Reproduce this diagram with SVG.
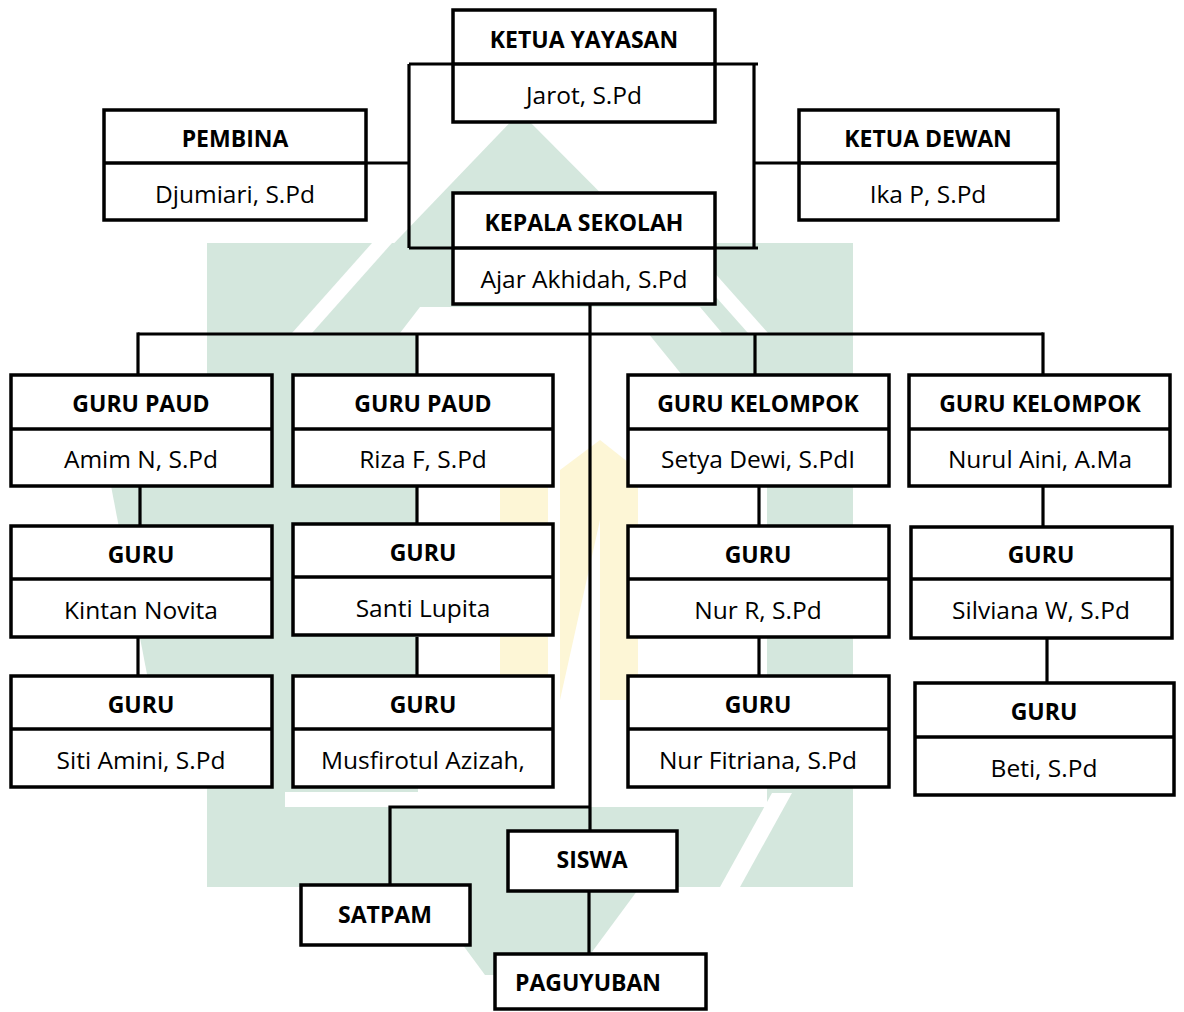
<svg xmlns="http://www.w3.org/2000/svg" width="1184" height="1012" viewBox="0 0 1184 1012">
<style>
.wm{fill:#d4e7dd;stroke:none}
.ww{fill:#fff;stroke:none}
.wy{fill:#fdf6d6;stroke:none}
.box{fill:#fff;stroke:#000;stroke-width:3.5}
.div{stroke:#000;stroke-width:3.5}
.ln{fill:none;stroke:#000;stroke-width:3.2}
.h{font-family:"Open Sans","Liberation Sans",sans-serif;font-weight:bold;font-size:23px;text-anchor:middle;fill:#000}
.n{font-family:"Open Sans","Liberation Sans",sans-serif;font-size:24.5px;text-anchor:middle;fill:#000}
</style>
<rect x="0" y="0" width="1184" height="1012" fill="#fff"/>
<g id="watermark">
<rect class="wm" x="207" y="243" width="646" height="644"/>
<polygon class="wm" points="308,333 520,112 740,333"/>
<polygon class="wm" points="420,887 640,887 575,975 485,975"/>
<polygon class="wm" points="108,470 207,470 207,690 150,690"/>
<polygon class="ww" points="372,243 392,243 312,333 292,333"/>
<polygon class="ww" points="668,243 688,243 768,333 748,333"/>
<polygon class="ww" points="420,307 700,307 722,333 400,333"/>
<polygon class="ww" points="418,333 648,333 767,480 767,792 418,792"/>
<polygon class="ww" points="285,792 767,792 767,807 285,807"/>
<polygon class="ww" points="772,793 792,793 740,887 720,887"/>
<polygon class="wy" points="500,700 500,480 548,440 548,700"/>
<polygon class="wy" points="560,700 560,470 600,440 638,470 638,700 600,700 600,520"/>
</g>
<g id="connectors">
<polyline class="ln" points="409,64 758,64"/>
<polyline class="ln" points="409,248 758,248"/>
<line class="ln" x1="409" y1="64" x2="409" y2="248"/>
<line class="ln" x1="754" y1="64" x2="754" y2="248"/>
<line class="ln" x1="366" y1="163" x2="409" y2="163"/>
<line class="ln" x1="754" y1="163" x2="799" y2="163"/>
<line class="ln" x1="590" y1="304" x2="590" y2="831"/>
<line class="ln" x1="138" y1="334" x2="1043" y2="334"/>
<line class="ln" x1="138" y1="332.4" x2="138" y2="375"/>
<line class="ln" x1="417" y1="334" x2="417" y2="375"/>
<line class="ln" x1="755" y1="334" x2="755" y2="375"/>
<line class="ln" x1="1043" y1="332.4" x2="1043" y2="375"/>
<line class="ln" x1="140" y1="486" x2="140" y2="526"/>
<line class="ln" x1="138" y1="637" x2="138" y2="676"/>
<line class="ln" x1="417" y1="486" x2="417" y2="526"/>
<line class="ln" x1="417" y1="637" x2="417" y2="676"/>
<line class="ln" x1="759" y1="486" x2="759" y2="526"/>
<line class="ln" x1="759" y1="637" x2="759" y2="676"/>
<line class="ln" x1="1043" y1="486" x2="1043" y2="527"/>
<line class="ln" x1="1047" y1="638" x2="1047" y2="683"/>
<polyline class="ln" points="590,807 390,807 390,885"/>
<line class="ln" x1="589" y1="891" x2="589" y2="954"/>
</g>
<g id="ketua-yayasan">
<rect class="box" x="453" y="10" width="262" height="112"/>
<line class="div" x1="453" y1="64" x2="715" y2="64"/>
<text class="h" x="584" y="48">KETUA YAYASAN</text>
<text class="n" x="584" y="104">Jarot, S.Pd</text>
</g>
<g id="pembina">
<rect class="box" x="104" y="110" width="262" height="110"/>
<line class="div" x1="104" y1="163" x2="366" y2="163"/>
<text class="h" x="235" y="147">PEMBINA</text>
<text class="n" x="235" y="203">Djumiari, S.Pd</text>
</g>
<g id="ketua-dewan">
<rect class="box" x="799" y="110" width="259" height="110"/>
<line class="div" x1="799" y1="163" x2="1058" y2="163"/>
<text class="h" x="928" y="147">KETUA DEWAN</text>
<text class="n" x="928" y="203">Ika P, S.Pd</text>
</g>
<g id="kepala-sekolah">
<rect class="box" x="453" y="193" width="262" height="111"/>
<line class="div" x1="453" y1="248" x2="715" y2="248"/>
<text class="h" x="584" y="231">KEPALA SEKOLAH</text>
<text class="n" x="584" y="288">Ajar Akhidah, S.Pd</text>
</g>
<g id="guru-paud-1">
<rect class="box" x="11" y="375" width="261" height="111"/>
<line class="div" x1="11" y1="429" x2="272" y2="429"/>
<text class="h" x="141" y="412">GURU PAUD</text>
<text class="n" x="141" y="468">Amim N, S.Pd</text>
</g>
<g id="guru-1b">
<rect class="box" x="11" y="526" width="261" height="111"/>
<line class="div" x1="11" y1="579" x2="272" y2="579"/>
<text class="h" x="141" y="563">GURU</text>
<text class="n" x="141" y="619">Kintan Novita</text>
</g>
<g id="guru-1c">
<rect class="box" x="11" y="676" width="261" height="111"/>
<line class="div" x1="11" y1="729" x2="272" y2="729"/>
<text class="h" x="141" y="713">GURU</text>
<text class="n" x="141" y="769">Siti Amini, S.Pd</text>
</g>
<g id="guru-paud-2">
<rect class="box" x="293" y="375" width="260" height="111"/>
<line class="div" x1="293" y1="429" x2="553" y2="429"/>
<text class="h" x="423" y="412">GURU PAUD</text>
<text class="n" x="423" y="468">Riza F, S.Pd</text>
</g>
<g id="guru-2b">
<rect class="box" x="293" y="524" width="260" height="111"/>
<line class="div" x1="293" y1="577" x2="553" y2="577"/>
<text class="h" x="423" y="561">GURU</text>
<text class="n" x="423" y="617">Santi Lupita</text>
</g>
<g id="guru-2c">
<rect class="box" x="293" y="676" width="260" height="111"/>
<line class="div" x1="293" y1="729" x2="553" y2="729"/>
<text class="h" x="423" y="713">GURU</text>
<text class="n" x="423" y="769">Musfirotul Azizah,</text>
</g>
<g id="guru-kelompok-1">
<rect class="box" x="628" y="375" width="261" height="111"/>
<line class="div" x1="628" y1="429" x2="889" y2="429"/>
<text class="h" x="758" y="412">GURU KELOMPOK</text>
<text class="n" x="758" y="468">Setya Dewi, S.PdI</text>
</g>
<g id="guru-3b">
<rect class="box" x="628" y="526" width="261" height="111"/>
<line class="div" x1="628" y1="579" x2="889" y2="579"/>
<text class="h" x="758" y="563">GURU</text>
<text class="n" x="758" y="619">Nur R, S.Pd</text>
</g>
<g id="guru-3c">
<rect class="box" x="628" y="676" width="261" height="111"/>
<line class="div" x1="628" y1="729" x2="889" y2="729"/>
<text class="h" x="758" y="713">GURU</text>
<text class="n" x="758" y="769">Nur Fitriana, S.Pd</text>
</g>
<g id="guru-kelompok-2">
<rect class="box" x="909" y="375" width="261" height="111"/>
<line class="div" x1="909" y1="429" x2="1170" y2="429"/>
<text class="h" x="1040" y="412">GURU KELOMPOK</text>
<text class="n" x="1040" y="468">Nurul Aini, A.Ma</text>
</g>
<g id="guru-4b">
<rect class="box" x="911" y="527" width="261" height="111"/>
<line class="div" x1="911" y1="579" x2="1172" y2="579"/>
<text class="h" x="1041" y="563">GURU</text>
<text class="n" x="1041" y="619">Silviana W, S.Pd</text>
</g>
<g id="guru-4c">
<rect class="box" x="915" y="683" width="259" height="112"/>
<line class="div" x1="915" y1="737" x2="1174" y2="737"/>
<text class="h" x="1044" y="720">GURU</text>
<text class="n" x="1044" y="777">Beti, S.Pd</text>
</g>
<g id="siswa">
<rect class="box" x="508" y="831" width="169" height="60"/>
<text class="h" x="592" y="868">SISWA</text>
</g>
<g id="satpam">
<rect class="box" x="301" y="885" width="169" height="60"/>
<text class="h" x="385" y="923">SATPAM</text>
</g>
<g id="paguyuban">
<rect class="box" x="495" y="954" width="211" height="55"/>
<text class="h" x="588" y="991">PAGUYUBAN</text>
</g>
</svg>
